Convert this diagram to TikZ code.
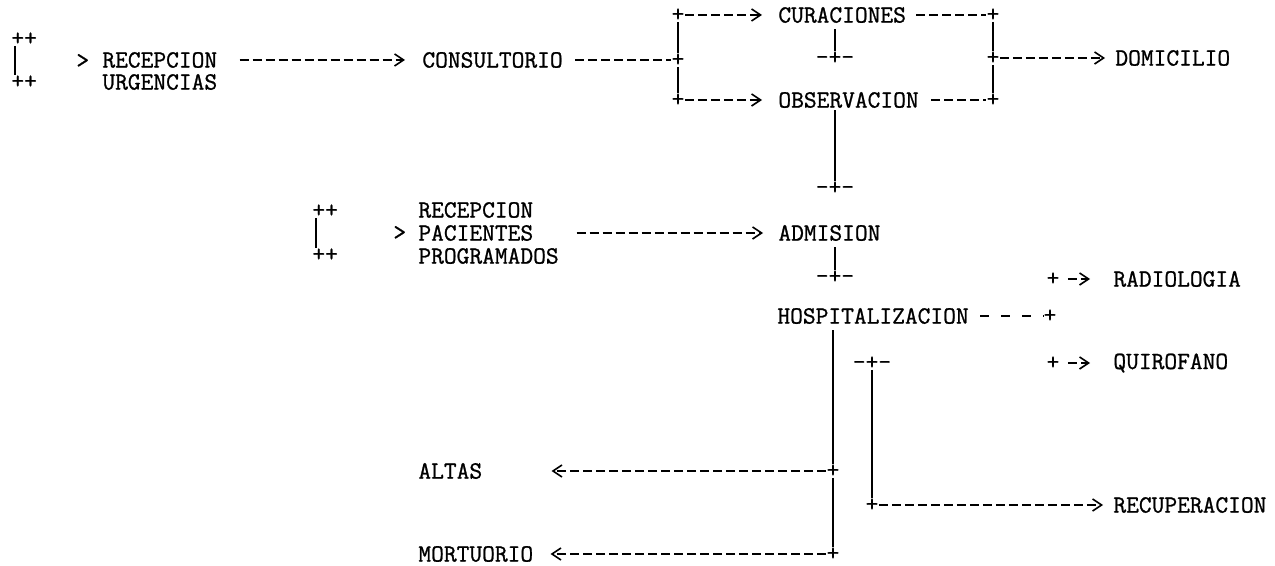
\documentclass[tikz,border=0pt]{standalone}
\usepackage{fontspec}
\usepackage{tikz}
\usetikzlibrary{arrows.meta}
\newfontfamily\monofam{Latin Modern Mono}[FakeBold=1]
\newcommand{\typew}{\monofam\fontsize{12.38pt}{14pt}\selectfont}

\begin{document}
\begin{tikzpicture}[x=0.5pt, y=-0.5pt,
    lbl/.style={font=\typew, inner sep=0pt, anchor=west},
    jn/.style={font=\typew, inner sep=0pt},
    hl/.style={line width=0.8pt, dash pattern=on 4.5pt off 2pt},
    vl/.style={line width=0.8pt},
    tip/.style={-{Straight Barb[length=4.5pt,width=6pt]}}]
    \useasboundingbox (0,0) rectangle (1275,566);

    \node[lbl] (ut) at (11,39) {++};
    \node[lbl] (ub) at (11,82) {++};
    \node[lbl] (gt1) at (76,61) {>};
    \node[lbl] (urg1) at (102,60) {RECEPCION};
    \node[lbl] (urg2) at (102,82) {URGENCIAS};
    \node[lbl] (cons) at (422,60) {CONSULTORIO};
    \node[jn] (j6) at (678,60) {+};
    \node[jn] (j1) at (678,15) {+};
    \node[jn] (j5) at (678,100) {+};
    \node[lbl] (cura) at (778,15) {CURACIONES};
    \node[lbl] (obs) at (778,100) {OBSERVACION};
    \node[jn] (cstub) at (835,58) {-+-};
    \node[jn] (ostub) at (835,188) {-+-};
    \node[jn] (j2) at (993,15) {+};
    \node[jn] (j3) at (993,58) {+};
    \node[jn] (j4) at (993,100) {+};
    \node[lbl] (dom) at (1115,58) {DOMICILIO};

    \node[lbl] (pt) at (312,211) {++};
    \node[lbl] (pb) at (312,255) {++};
    \node[lbl] (gt2) at (393,233) {>};
    \node[lbl] (prog1) at (418,210) {RECEPCION};
    \node[lbl] (prog2) at (418,233) {PACIENTES};
    \node[lbl] (prog3) at (418,256) {PROGRAMADOS};
    \node[lbl] (adm) at (778,233) {ADMISION};
    \node[jn] (astub) at (835,277) {-+-};
    \node[jn] (j7) at (1053,279) {+};
    \node[lbl] (radio) at (1113,279) {RADIOLOGIA};
    \node[lbl] (hosp) at (777,316) {HOSPITALIZACION};
    \node[jn] (j8) at (1050,316) {+};
    \node[jn] (qstub) at (872,363) {-+-};
    \node[jn] (j11) at (1053,363) {+};
    \node[lbl] (quiro) at (1113,363) {QUIROFANO};
    \node[jn] (j9) at (833,471) {+};
    \node[lbl] (altas) at (418,471) {ALTAS};
    \node[jn] (j12) at (872,505) {+};
    \node[lbl] (recu) at (1113,505) {RECUPERACION};
    \node[jn] (j10) at (833,554) {+};
    \node[lbl] (mort) at (418,554) {MORTUORIO};

    \draw[vl] ([xshift=2pt]ut.south west) -- ([xshift=2pt]ub.north west);
    \draw[hl, tip, shorten <=11pt, shorten >=8.5pt] (urg1) -- (cons);
    \draw[hl, shorten <=6pt] (cons) -- (j6);
    \draw[vl] (j6) -- (j1);
    \draw[vl] (j6) -- (j5);
    \draw[hl, tip, shorten >=8pt] (j1) -- (cura);
    \draw[hl, tip, shorten >=8pt] (j5) -- (obs);
    \draw[hl, shorten <=5pt] (cura) -- (j2);
    \draw[hl, shorten <=6pt] (obs) -- (j4);
    \draw[vl] (j2) -- (j3);
    \draw[vl] (j3) -- (j4);
    \draw[hl, tip, shorten >=5pt] (j3) -- (dom);
    \draw[vl, shorten <=3pt] (cura.south -| cstub) -- (cstub);
    \draw[vl, shorten <=1pt] (obs.south -| ostub) -- (ostub);

    \draw[vl] ([xshift=2pt]pt.south west) -- ([xshift=2pt]pb.north west);
    \draw[hl, tip, shorten <=21.5pt, shorten >=7.5pt] (prog2) -- (adm);
    \draw[vl, shorten <=3pt] (adm.south -| astub) -- (astub);
    \draw[hl, tip, shorten <=4pt, shorten >=11.5pt] (j7) -- (radio);
    \draw[line width=0.8pt, dash pattern=on 4.5pt off 6pt, shorten <=5.5pt] (hosp) -- (j8);
    \draw[hl, tip, shorten <=4pt, shorten >=11.5pt] (j11) -- (quiro);
    \draw[vl, shorten <=3pt] (hosp.south -| j9) -- (j9);
    \draw[vl] (j9) -- (j10);
    \draw[hl, tip, shorten >=34.5pt] (j9) -- (altas);
    \draw[hl, tip, shorten >=8.5pt] (j10) -- (mort);
    \draw[vl] (qstub) -- (j12);
    \draw[hl, tip, shorten >=5pt] (j12) -- (recu);
  \end{tikzpicture}
\end{document}
